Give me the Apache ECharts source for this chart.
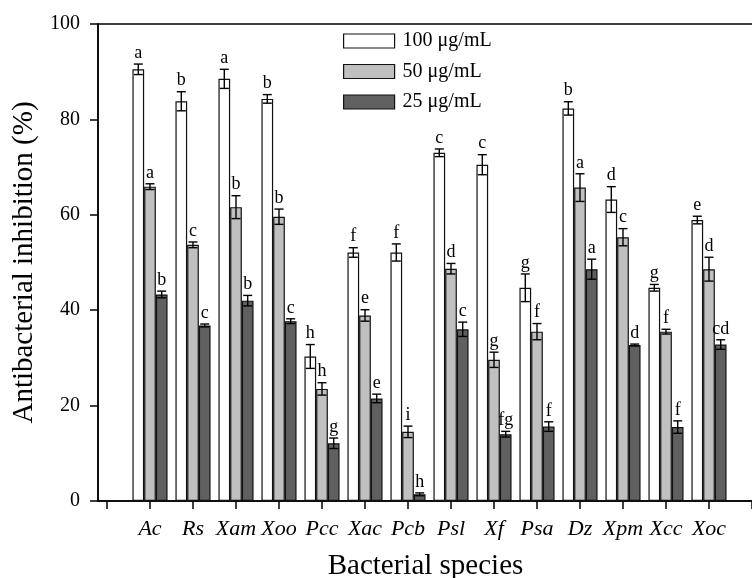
<!DOCTYPE html>
<html>
<head>
<meta charset="utf-8">
<script src="https://cdn.jsdelivr.net/npm/echarts@6/dist/echarts.min.js"></script>
<style>
  html, body { margin: 0; padding: 0; background: #fff; }
  #main { width: 752px; height: 578px; }
</style>
</head>
<body>
<div id="main"></div>
<script>
// categories and values
var categories = ['Ac', 'Rs', 'Xam', 'Xoo', 'Pcc', 'Xac', 'Pcb', 'Psl', 'Xf', 'Psa', 'Dz', 'Xpm', 'Xcc', 'Xoc'];
var seriesNames = ['100 μg/mL', '50 μg/mL', '25 μg/mL'];

var v100 = [90.5, 83.8, 88.5, 84.3, 30.3, 52.1, 52.1, 73.0, 70.5, 44.7, 82.3, 63.2, 44.7, 58.9];
var e100 = [1.1, 2.0, 2.0, 0.9, 2.5, 1.0, 1.8, 0.8, 2.1, 2.9, 1.4, 2.7, 0.7, 0.8];
var l100 = ['a', 'b', 'a', 'b', 'h', 'f', 'f', 'c', 'c', 'g', 'b', 'd', 'g', 'e'];

var v50 = [65.9, 53.7, 61.6, 59.6, 23.5, 38.9, 14.5, 48.7, 29.6, 35.5, 65.7, 55.3, 35.5, 48.6];
var e50 = [0.6, 0.6, 2.4, 1.6, 1.3, 1.2, 1.2, 1.1, 1.6, 1.7, 2.9, 1.8, 0.5, 2.5];
var l50 = ['a', 'c', 'b', 'b', 'h', 'e', 'i', 'd', 'g', 'f', 'a', 'c', 'f', 'd'];

var v25 = [43.3, 36.8, 42.0, 37.7, 12.1, 21.5, 1.4, 36.0, 14.0, 15.6, 48.6, 32.7, 15.5, 32.8];
var e25 = [0.7, 0.3, 1.1, 0.5, 1.1, 0.9, 0.3, 1.5, 0.6, 1.0, 2.1, 0.2, 1.3, 1.0];
var l25 = ['b', 'c', 'b', 'c', 'g', 'e', 'h', 'c', 'fg', 'f', 'a', 'd', 'f', 'cd'];

var yTicks = [0, 20, 40, 60, 80, 100];

var FONT = 'Liberation Serif';
var BAR_W = 11.7;
var colors = ['#ffffff', '#c0c0c0', '#606060'];

var myChart = echarts.init(document.getElementById('main'), null, { renderer: 'canvas' });

function barData(vals) {
    return vals.map(function (v, i) { return [i + 1, v]; });
}
function errData(vals, errs) {
    return vals.map(function (v, i) { return [i + 1, v, errs[i]]; });
}

// error bars + letters drawn next to each bar
function makeErr(k, vals, errs, letters) {
    return {
        type: 'custom',
        z: 5,
        data: errData(vals, errs),
        renderItem: function (params, api) {
            var x = api.value(0), y = api.value(1), e = api.value(2);
            var off = (k - 1) * BAR_W;
            var top = api.coord([x, y + e]);
            var bot = api.coord([x, y - e]);
            var cx = top[0] + off;
            var cap = 4.5;
            var ls = { stroke: '#000', lineWidth: 1.4 };
            return {
                type: 'group',
                children: [
                    { type: 'line', shape: { x1: cx, y1: top[1], x2: cx, y2: bot[1] }, style: ls },
                    { type: 'line', shape: { x1: cx - cap, y1: top[1], x2: cx + cap, y2: top[1] }, style: ls },
                    { type: 'line', shape: { x1: cx - cap, y1: bot[1], x2: cx + cap, y2: bot[1] }, style: ls },
                    {
                        type: 'text',
                        style: {
                            x: cx, y: top[1] - 2,
                            text: letters[params.dataIndex],
                            fill: '#000',
                            font: '18px "' + FONT + '"',
                            textAlign: 'center',
                            textVerticalAlign: 'bottom'
                        }
                    }
                ]
            };
        }
    };
}

var option = {
    backgroundColor: '#fff',
    animation: false,
    textStyle: { fontFamily: FONT, color: '#000' },
    grid: {
        left: 98, top: 24, right: -1, bottom: 77,
        outerBoundsMode: 'none',
        containLabel: false,
        show: true, borderColor: '#000', borderWidth: 1.5, backgroundColor: 'transparent'
    },
    legend: {
        orient: 'vertical',
        left: 338, top: 26,
        itemWidth: 51, itemHeight: 14, itemGap: 10.5,
        icon: 'rect',
        data: seriesNames,
        itemStyle: { borderColor: '#111', borderWidth: 1.2 },
        textStyle: { fontFamily: FONT, fontSize: 20, color: '#000', padding: [0, 0, 0, 3] }
    },
    xAxis: {
        type: 'value',
        min: -9 / 43,
        max: 646 / 43,
        name: 'Bacterial species',
        nameLocation: 'middle',
        nameGap: 51,
        nameTextStyle: { fontFamily: FONT, fontSize: 29, color: '#000', verticalAlign: 'top' },
        axisLine: { onZero: false, lineStyle: { color: '#000', width: 1.5 } },
        axisTick: {
            show: true, inside: false, length: 8,
            customValues: [0, 1, 2, 3, 4, 5, 6, 7, 8, 9, 10, 11, 12, 13, 14, 15],
            lineStyle: { color: '#000', width: 1.5 }
        },
        axisLabel: {
            customValues: [1, 2, 3, 4, 5, 6, 7, 8, 9, 10, 11, 12, 13, 14],
            formatter: function (v) { return categories[v - 1] || ''; },
            fontFamily: FONT, fontSize: 22, fontStyle: 'italic', color: '#000', margin: 17
        },
        splitLine: { show: false }
    },
    yAxis: {
        type: 'value',
        min: 0, max: 100, interval: 20,
        name: 'Antibacterial inhibition (%)',
        nameLocation: 'middle',
        nameGap: 58,
        nameTextStyle: { fontFamily: FONT, fontSize: 29, color: '#000' },
        axisLine: { show: true, onZero: false, lineStyle: { color: '#000', width: 1.5 } },
        axisTick: { show: true, inside: false, length: 8, lineStyle: { color: '#000', width: 1.5 } },
        axisLabel: {
            fontFamily: FONT, fontSize: 20, color: '#000', margin: 18,
            formatter: function (v) { return yTicks.indexOf(v) >= 0 ? String(v) : ''; }
        },
        splitLine: { show: false }
    },
    series: [
        {
            name: seriesNames[0], type: 'bar', barWidth: BAR_W, barGap: '0%',
            itemStyle: { color: colors[0], borderColor: '#111', borderWidth: 1.2 },
            data: barData(v100)
        },
        {
            name: seriesNames[1], type: 'bar', barWidth: BAR_W, barGap: '0%',
            itemStyle: { color: colors[1], borderColor: '#111', borderWidth: 1.2 },
            data: barData(v50)
        },
        {
            name: seriesNames[2], type: 'bar', barWidth: BAR_W, barGap: '0%',
            itemStyle: { color: colors[2], borderColor: '#111', borderWidth: 1.2 },
            data: barData(v25)
        },
        makeErr(0, v100, e100, l100),
        makeErr(1, v50, e50, l50),
        makeErr(2, v25, e25, l25)
    ]
};

myChart.setOption(option);
</script>
</body>
</html>
